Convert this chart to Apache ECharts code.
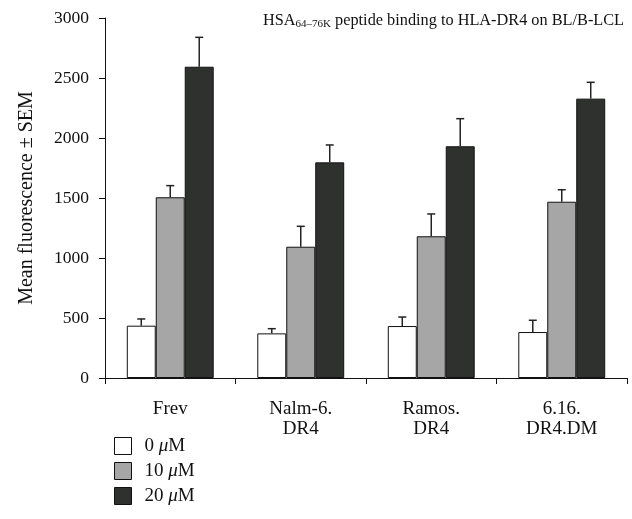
<!DOCTYPE html>
<html><head><meta charset="utf-8">
<script src="https://cdn.jsdelivr.net/npm/echarts@6/dist/echarts.min.js"></script>
<style>html,body{margin:0;padding:0;background:#fff}#c{width:632px;height:519px}</style>
</head><body><div id="c"></div>
<script>
const categories = ['Frev', 'Nalm-6.\nDR4', 'Ramos.\nDR4', '6.16.\nDR4.DM'];
const seriesNames = ['0', '10', '20'];
const mean0 = [436, 372, 433, 383];
const mean10 = [1506, 1094, 1181, 1469];
const mean20 = [2594, 1797, 1931, 2328];
const sem0 = [56, 39, 75, 98];
const sem10 = [97, 170, 186, 100];
const sem20 = [245, 145, 230, 136];
const yTicks = [0, 500, 1000, 1500, 2000, 2500, 3000];

const means = [mean0, mean10, mean20];
const sems = [sem0, sem10, sem20];
const colors = ['#ffffff', '#a6a6a6', '#2f312f'];
const font = '"Liberation Serif", "DejaVu Serif", serif';
const BW = 0.222;

const chart = echarts.init(document.getElementById('c'), null, {renderer: 'canvas'});
const series = [];
seriesNames.forEach((n, i) => {
  series.push({
    name: n, type: 'bar', data: means[i], barWidth: (BW * 100) + '%', barGap: '0%',
    itemStyle: {color: colors[i], borderColor: '#111', borderWidth: 1},
    z: 2
  });
});
seriesNames.forEach((n, i) => {
  series.push({
    type: 'custom', z: 3, silent: true,
    data: means[i].map((m, k) => [k, m, m + sems[i][k]]),
    renderItem: function (params, api) {
      const band = api.size([1, 0])[0];
      const off = (i - 1) * band * BW;
      const base = api.coord([api.value(0), api.value(1)]);
      const top = api.coord([api.value(0), api.value(2)]);
      const x = base[0] + off;
      const st = {stroke: '#222', lineWidth: 1.5};
      return {type: 'group', children: [
        {type: 'line', shape: {x1: x, y1: base[1], x2: x, y2: top[1]}, style: st},
        {type: 'line', shape: {x1: x - 4, y1: top[1], x2: x + 4, y2: top[1]}, style: st}
      ]};
    }
  });
});

chart.setOption({
  animation: false,
  backgroundColor: '#fff',
  title: {
    text: 'HSA{sub|64–76K} peptide binding to HLA-DR4 on BL/B-LCL',
    left: 258, top: 6,
    textStyle: {
      fontFamily: font, fontSize: 16.3, fontWeight: 'normal', color: '#111',
      rich: {sub: {fontFamily: font, fontSize: 11, color: '#111', verticalAlign: 'bottom', padding: [8, 0, 0, 0]}}
    }
  },
  legend: {
    orient: 'vertical', left: 114, top: 436, padding: 0, itemWidth: 17, itemHeight: 17, itemGap: 5,
    icon: 'rect',
    data: seriesNames.map((n, i) => ({name: n, itemStyle: {color: colors[i], borderColor: '#111', borderWidth: 1}})),
    formatter: n => n + ' {mu|μ}M',
    textStyle: {fontFamily: font, fontSize: 19, color: '#111', lineHeight: 20, padding: [0, 0, 0, 8],
      rich: {mu: {fontFamily: font, fontSize: 19, fontStyle: 'italic', color: '#111', lineHeight: 20}}}
  },
  grid: {left: 105, right: 5, top: 18, bottom: 141},
  xAxis: {
    type: 'category', data: categories,
    axisLine: {lineStyle: {color: '#111', width: 1}},
    axisTick: {show: true, length: 6, lineStyle: {color: '#111'}},
    axisLabel: {fontFamily: font, fontSize: 19, color: '#111', margin: 21, lineHeight: 20}
  },
  yAxis: {
    type: 'value', min: 0, max: 3000, interval: 500,
    name: 'Mean fluorescence ± SEM', nameLocation: 'middle', nameGap: 68,
    nameTextStyle: {fontFamily: font, fontSize: 20, color: '#111'},
    axisLine: {show: true, lineStyle: {color: '#111', width: 1}},
    axisTick: {show: true, length: 6, lineStyle: {color: '#111'}},
    axisLabel: {fontFamily: font, fontSize: 17.5, color: '#111', margin: 16,
      formatter: v => yTicks.includes(v) ? String(v) : ''},
    splitLine: {show: false}
  },
  series: series
});
</script></body></html>
